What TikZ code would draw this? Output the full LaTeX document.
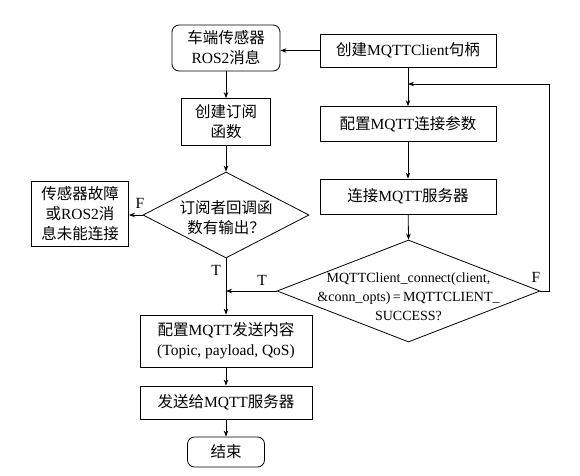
\documentclass[tikz,border=0pt]{standalone}
\usepackage{fontspec}
\setmainfont{Liberation Serif}
\newfontfamily\cjk{Noto Sans CJK SC}
\usetikzlibrary{shapes.geometric,arrows.meta}
\newcommand{\zh}[1]{{\cjk #1}}
\begin{document}
\begin{tikzpicture}[x=1pt,y=-1pt,
  >={Stealth[length=6pt,width=4.5pt]},
  every node/.style={font=\fontsize{15.5}{20}\selectfont,align=center,inner sep=0pt},
  proc/.style={draw,line width=0.8pt},
  term/.style={proc,rounded corners=7pt},
  dec/.style={proc,diamond},
  flow/.style={->,line width=0.8pt}]
  \useasboundingbox (0,0) rectangle (580,475);
  % left column
  \node[term,minimum width=108,minimum height=46] (ros) at (226,48) {\zh{车端传感器}\\ROS2\zh{消息}};
  \node[proc,minimum width=89,minimum height=47] (sub) at (226,122) {\zh{创建订阅}\\\zh{函数}};
  \node[dec,minimum width=166,minimum height=86] (d1) at (226,215) {};
  \node (d1t) at (226,218) {\zh{订阅者回调函}\\\zh{数有输出？}};
  \node[proc,minimum width=97,minimum height=65] (fail) at (80,214) {\zh{传感器故障}\\\zh{或}ROS2\zh{消}\\\zh{息未能连接}};
  \node[proc,minimum width=172,minimum height=52] (cont) at (226,341) {\zh{配置}MQTT\zh{发送内容}\\(Topic, payload, QoS)};
  \node[proc,minimum width=172,minimum height=33] (send) at (226,402.5) {\zh{发送给}MQTT\zh{服务器}};
  \node[term,minimum width=77,minimum height=30] (stop) at (226,452) {\zh{结束}};
  % right column
  \node[proc,minimum width=176,minimum height=33] (mq) at (408,50.5) {\zh{创建}MQTTClient\zh{句柄}};
  \node[proc,minimum width=176,minimum height=35] (par) at (408,124) {\zh{配置}MQTT\zh{连接参数}};
  \node[proc,minimum width=176,minimum height=35] (conn) at (408,196.5) {\zh{连接}MQTT\zh{服务器}};
  \node[dec,minimum width=263,minimum height=102] (d2) at (408.5,291) {};
  \node[font=\fontsize{14}{19}\selectfont] (d2t) at (408.5,297) {MQTTClient\_connect(client,\\\&conn\_opts)\,=\,MQTTCLIENT\_\\SUCCESS?};
  \coordinate (lpr) at (549,291);
  \coordinate (lpt) at (549,84);
  \coordinate (lpe) at (408,84);
  \coordinate (join) at (226,291);
  % connectors
  \draw[flow] (mq.west) -- (ros.east |- mq.west);
  \draw[flow] (ros) -- (sub);
  \draw[flow] (sub) -- (d1);
  \draw[flow] (d1.west) -- (fail.east |- d1.west);
  \draw[flow] (d1.south) -- (cont.north);
  \draw[flow] (mq) -- (par);
  \draw[flow] (par) -- (conn);
  \draw[flow] (conn) -- (d2.north);
  \draw[flow] (d2.east) -- (lpr) -- (lpt) -- (lpe);
  \draw[flow] (d2.west) -- (join);
  \draw[flow] (cont) -- (send);
  \draw[flow] (send) -- (stop);
  \node (lf1) at (140,203) {F};
  \node (lt1) at (216,270) {T};
  \node (lt2) at (262,280) {T};
  \node (lf2) at (536,277) {F};
\end{tikzpicture}
\end{document}
